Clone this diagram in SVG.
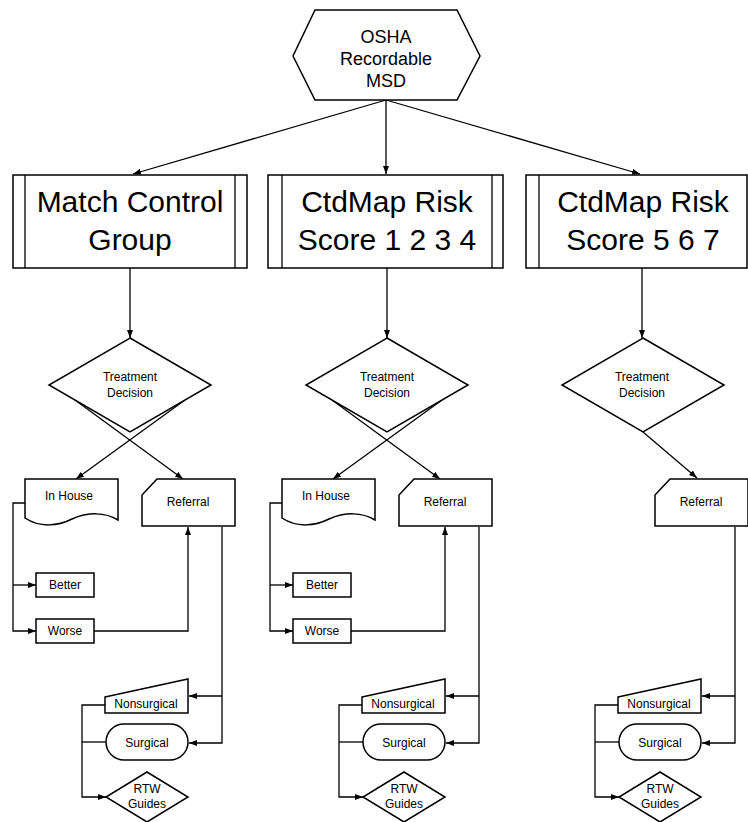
<svg xmlns="http://www.w3.org/2000/svg" width="748" height="822" viewBox="0 0 748 822">
<style>
.s{fill:#fff;stroke:#000;stroke-width:1.5}
.c{fill:none;stroke:#000;stroke-width:1.3}
.a{marker-end:url(#ah)}
text{font-family:"Liberation Sans",Arial,sans-serif;fill:#000;text-anchor:middle}
.big{font-size:30px}
.hx{font-size:18px}
.sm{font-size:12px}
</style>
<defs>
<marker id="ah" markerWidth="8" markerHeight="6" refX="8" refY="3" orient="auto" markerUnits="userSpaceOnUse">
<path d="M0,0 L8,3 L0,6 Z" fill="#000"/>
</marker>
</defs>
<g id="connectors">
<path class="c a" d="M386,100 L133,174"/>
<path class="c a" d="M386,100 L386,174"/>
<path class="c a" d="M386,100 L640,174"/>
<path class="c a" d="M130,268 L130,338"/>
<path class="c a" d="M387,268 L387,338"/>
<path class="c a" d="M642,268 L642,338"/>
<path class="c a" d="M185,400 L76,479"/>
<path class="c a" d="M75,400 L183,479"/>
<path class="c a" d="M442,400 L333,479"/>
<path class="c a" d="M332,400 L440,479"/>
<path class="c a" d="M643,432 L697,478"/>
<path class="c a" d="M25,503 H13 V631 H36"/>
<path class="c a" d="M13,585 H36"/>
<path class="c a" d="M94,631 H188 V527"/>
<path class="c a" d="M222,527 V743 H189"/>
<path class="c a" d="M222,696 H189"/>
<path class="c a" d="M105,705 H82 V797 H106"/>
<path class="c" d="M106,742 H82"/>
<path class="c a" d="M282,503 H270 V631 H293"/>
<path class="c a" d="M270,585 H293"/>
<path class="c a" d="M351,631 H445 V527"/>
<path class="c a" d="M479,527 V743 H446"/>
<path class="c a" d="M479,696 H446"/>
<path class="c a" d="M362,705 H339 V797 H363"/>
<path class="c" d="M363,742 H339"/>
<path class="c a" d="M735,527 V743 H702"/>
<path class="c a" d="M735,696 H702"/>
<path class="c a" d="M618,705 H595 V797 H619"/>
<path class="c" d="M619,742 H595"/>
</g>
<g id="osha">
<path class="s" d="M315,10 H457 L480,56 L457,100 H315 L293,56 Z"/>
<text class="hx" x="386" y="43">OSHA</text>
<text class="hx" x="386" y="65">Recordable</text>
<text class="hx" x="386" y="87">MSD</text>
</g>
<g id="box-match">
<rect class="s" x="13" y="175" width="234" height="93"/>
<path class="c" d="M25,175 V268 M235,175 V268"/>
<text class="big" x="130" y="212">Match Control</text>
<text class="big" x="130" y="250">Group</text>
</g>
<g id="box-1234">
<rect class="s" x="268" y="175" width="235" height="93"/>
<path class="c" d="M282,175 V268 M492,175 V268"/>
<text class="big" x="387" y="212">CtdMap Risk</text>
<text class="big" x="387" y="250">Score 1 2 3 4</text>
</g>
<g id="box-567">
<rect class="s" x="526" y="175" width="221" height="93"/>
<path class="c" d="M539,175 V268"/>
<text class="big" x="643" y="212">CtdMap Risk</text>
<text class="big" x="643" y="250">Score 5 6 7</text>
</g>
<g id="decision-1">
<path class="s" d="M130,338 L211,385 L130,432 L49,385 Z"/>
<text class="sm" x="130" y="381">Treatment</text>
<text class="sm" x="130" y="397">Decision</text>
</g>
<g id="decision-2">
<path class="s" d="M387,338 L468,385 L387,432 L306,385 Z"/>
<text class="sm" x="387" y="381">Treatment</text>
<text class="sm" x="387" y="397">Decision</text>
</g>
<g id="decision-3">
<path class="s" d="M643,338 L724,385 L643,432 L562,385 Z"/>
<text class="sm" x="642" y="381">Treatment</text>
<text class="sm" x="642" y="397">Decision</text>
</g>
<g id="inhouse-1">
<path class="s" d="M25,479 H118 V520 C105,512 88,512 72,519 C58,526 40,528 25,518 Z"/>
<text class="sm" x="69" y="500">In House</text>
</g>
<g id="inhouse-2">
<path class="s" d="M282,479 H375 V520 C362,512 345,512 329,519 C315,526 297,528 282,518 Z"/>
<text class="sm" x="326" y="500">In House</text>
</g>
<g id="referral-1">
<path class="s" d="M157,479 H235 V526 H142 V495 Z"/>
<text class="sm" x="188" y="506">Referral</text>
</g>
<g id="referral-2">
<path class="s" d="M414,479 H492 V526 H399 V495 Z"/>
<text class="sm" x="445" y="506">Referral</text>
</g>
<g id="referral-3">
<path class="s" d="M670,479 H748 V526 H655 V495 Z"/>
<text class="sm" x="701" y="506">Referral</text>
</g>
<g id="better-1">
<rect class="s" x="36" y="573" width="58" height="24"/>
<text class="sm" x="65" y="589">Better</text>
</g>
<g id="worse-1">
<rect class="s" x="36" y="619" width="58" height="24"/>
<text class="sm" x="65" y="635">Worse</text>
</g>
<g id="better-2">
<rect class="s" x="293" y="573" width="58" height="24"/>
<text class="sm" x="322" y="589">Better</text>
</g>
<g id="worse-2">
<rect class="s" x="293" y="619" width="58" height="24"/>
<text class="sm" x="322" y="635">Worse</text>
</g>
<g id="nonsurgical-1">
<path class="s" d="M105,697 L188,679 V713 H105 Z"/>
<text class="sm" x="146" y="708">Nonsurgical</text>
</g>
<g id="surgical-1">
<rect class="s" x="106" y="724" width="82" height="36" rx="18"/>
<text class="sm" x="147" y="747">Surgical</text>
</g>
<g id="rtw-1">
<path class="s" d="M147,772 L188,797 L147,822 L106,797 Z"/>
<text class="sm" x="147" y="793">RTW</text>
<text class="sm" x="147" y="808">Guides</text>
</g>
<g id="nonsurgical-2">
<path class="s" d="M362,697 L445,679 V713 H362 Z"/>
<text class="sm" x="403" y="708">Nonsurgical</text>
</g>
<g id="surgical-2">
<rect class="s" x="363" y="724" width="82" height="36" rx="18"/>
<text class="sm" x="404" y="747">Surgical</text>
</g>
<g id="rtw-2">
<path class="s" d="M404,772 L445,797 L404,822 L363,797 Z"/>
<text class="sm" x="404" y="793">RTW</text>
<text class="sm" x="404" y="808">Guides</text>
</g>
<g id="nonsurgical-3">
<path class="s" d="M618,697 L701,679 V713 H618 Z"/>
<text class="sm" x="659" y="708">Nonsurgical</text>
</g>
<g id="surgical-3">
<rect class="s" x="619" y="724" width="82" height="36" rx="18"/>
<text class="sm" x="660" y="747">Surgical</text>
</g>
<g id="rtw-3">
<path class="s" d="M660,772 L701,797 L660,822 L619,797 Z"/>
<text class="sm" x="660" y="793">RTW</text>
<text class="sm" x="660" y="808">Guides</text>
</g>
</svg>
